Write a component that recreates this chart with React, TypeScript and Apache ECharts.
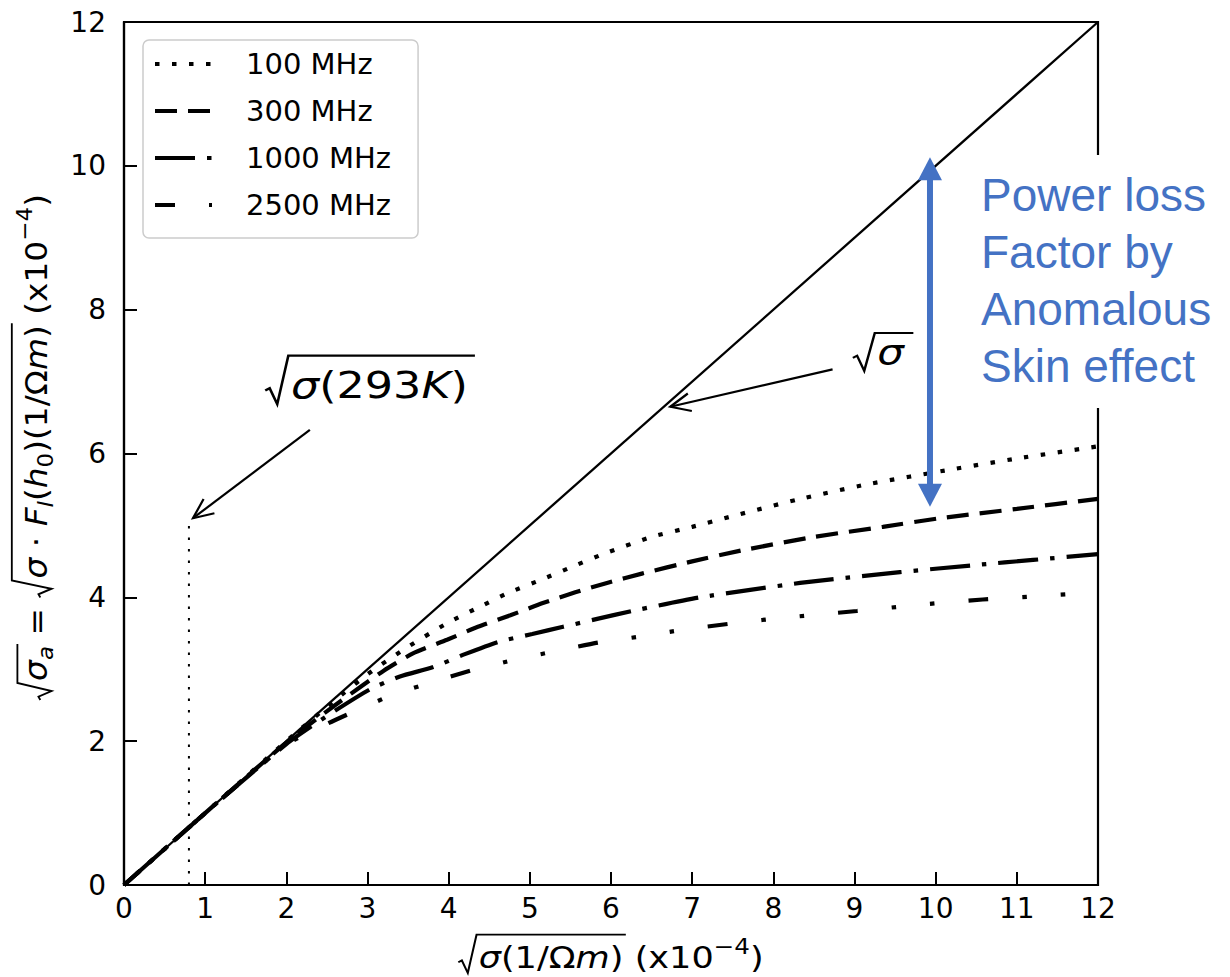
import React, { useEffect, useRef } from "react";
import * as echarts from "echarts";

// ---------- data ----------
const xRange = [0, 12];
const yRange = [0, 12];
const legendLabels = ["100 MHz", "300 MHz", "1000 MHz", "2500 MHz"];

const mhz100: [number, number][] = [
  [0, 0], [1, 1], [2, 2], [2.6, 2.57], [3.0, 2.93], [3.44, 3.27], [3.98, 3.64], [4.35, 3.85],
  [4.73, 4.06], [5.13, 4.24], [5.49, 4.41], [5.9, 4.6], [6.5, 4.84], [7.0, 4.98], [7.5, 5.13],
  [8.3, 5.36], [9.15, 5.57], [10.2, 5.78], [11.0, 5.93], [12.0, 6.1],
];
const mhz300: [number, number][] = [
  [0, 0], [1, 1], [2, 1.98], [2.6, 2.5], [3.2, 2.98], [3.56, 3.22], [3.98, 3.41], [4.36, 3.59],
  [4.76, 3.75], [5.16, 3.92], [5.56, 4.07], [5.95, 4.2], [6.38, 4.33], [7.0, 4.5], [7.6, 4.65],
  [8.5, 4.84], [9.35, 4.98], [10.05, 5.1], [11.0, 5.23], [12.0, 5.37],
];
const mhz1000: [number, number][] = [
  [0, 0], [1, 1], [2, 1.96], [2.5, 2.35], [3.03, 2.72], [3.4, 2.9], [3.81, 3.03], [4.2, 3.21],
  [4.61, 3.38], [5.03, 3.49], [5.41, 3.59], [5.83, 3.7], [6.26, 3.81], [7.1, 4.0], [8.33, 4.2],
  [9.56, 4.35], [10.5, 4.45], [11.2, 4.52], [12.0, 4.6],
];
const mhz2500: [number, number][] = [
  [0, 0], [1, 1], [2, 1.95], [2.5, 2.24], [2.85, 2.42], [3.32, 2.65], [3.77, 2.81], [4.3, 2.99],
  [4.84, 3.14], [5.31, 3.25], [5.84, 3.37], [6.39, 3.46], [6.89, 3.55], [7.44, 3.63], [7.98, 3.7],
  [8.45, 3.75], [9.03, 3.81], [9.56, 3.87], [10.03, 3.92], [10.58, 3.97], [11.16, 4.01], [11.7, 4.05],
];
const identityLine: [number, number][] = [[0, 0], [12, 12]];
const roomTempLine: [number, number][] = [[0.8, 0], [0.8, 5.0]];

// annotation anchors (data units)
const ann293Text: [number, number] = [1.74, 6.95];
const ann293ArrowFrom: [number, number] = [2.29, 6.33];
const ann293ArrowTo: [number, number] = [0.85, 5.1];
const annSigmaText: [number, number] = [8.98, 7.4];
const annSigmaArrowFrom: [number, number] = [8.73, 7.17];
const annSigmaArrowTo: [number, number] = [6.73, 6.65];
const blueArrowX = 9.93;
const blueArrowTop = 10.12;
const blueArrowBottom = 5.26;
const noteLines = ["Power loss", "Factor by", "Anomalous", "Skin effect"];

const FONT = "'DejaVu Sans', sans-serif";
const BLUE = "#4472C4";

type Piece = { t: string; it?: boolean; s?: number; dy?: number };
type Radical = { from: number; to: number; ov?: number; extra?: number };

function mathText(pieces: Piece[], radicals: Radical[], fs: number, color: string) {
  const canvas = document.createElement("canvas");
  const ctx = canvas.getContext("2d")!;
  const els: any[] = [];
  let x = 0;
  const ends: number[] = [];
  const radX = new Map<number, number>();
  const radStart = new Set(radicals.map((r) => r.from));
  pieces.forEach((p, i) => {
    if (radStart.has(i)) {
      radX.set(i, x);
      x += 0.58 * fs;
    }
    const size = fs * (p.s ?? 1);
    ctx.font = `${p.it ? "italic " : ""}${size}px "DejaVu Sans"`;
    const w = ctx.measureText(p.t).width;
    els.push({
      type: "text",
      x,
      y: (p.dy ?? 0) * fs,
      style: {
        text: p.t,
        fontSize: size,
        fontFamily: FONT,
        fontStyle: p.it ? "italic" : "normal",
        fill: color,
        align: "left",
        verticalAlign: "middle",
      },
    });
    x += w;
    ends[i] = x;
  });
  radicals.forEach((r) => {
    const x0 = radX.get(r.from)!;
    const xe = ends[r.to] + (r.extra ?? 2);
    const ov = -(r.ov ?? 0.78) * fs;
    els.push({
      type: "polyline",
      shape: {
        points: [
          [x0, 0.14 * fs],
          [x0 + 0.1 * fs, 0.08 * fs],
          [x0 + 0.27 * fs, 0.5 * fs],
          [x0 + 0.52 * fs, ov],
          [xe, ov],
        ],
      },
      style: { stroke: color, lineWidth: Math.max(1.6, fs / 17), fill: "none" },
    });
  });
  return { els, width: x };
}

function arrowEls(from: number[], to: number[], color: string) {
  const dx = to[0] - from[0];
  const dy = to[1] - from[1];
  const a = Math.atan2(dy, dx);
  const L = 22;
  const sp = 0.42;
  const h1 = [to[0] - L * Math.cos(a - sp), to[1] - L * Math.sin(a - sp)];
  const h2 = [to[0] - L * Math.cos(a + sp), to[1] - L * Math.sin(a + sp)];
  return [
    { type: "line", shape: { x1: from[0], y1: from[1], x2: to[0], y2: to[1] }, style: { stroke: color, lineWidth: 2.2 }, z: 10 },
    { type: "polyline", shape: { points: [h1, to, h2] }, style: { stroke: color, lineWidth: 2.2, fill: "none" }, z: 10 },
  ];
}

export default function App() {
  const ref = useRef<HTMLDivElement>(null);
  useEffect(() => {
    const chart = echarts.init(ref.current!, null, { renderer: "svg" });
    const lineBase = {
      type: "line",
      symbol: "none",
      showSymbol: false,
      smooth: 0.2,
      z: 3,
      itemStyle: { color: "#000" },
    };
    chart.setOption({
      animation: false,
      backgroundColor: "#ffffff",
      color: ["#000"],
      grid: { left: 124, top: 22, right: 132, bottom: 92, show: true, borderColor: "#000", borderWidth: 2.2 },
      xAxis: {
        type: "value",
        min: xRange[0],
        max: xRange[1],
        interval: 1,
        axisLine: { show: true, lineStyle: { color: "#000", width: 2.2 } },
        axisTick: { show: true, inside: true, length: 13, lineStyle: { color: "#000", width: 2 } },
        axisLabel: { color: "#000", fontSize: 28, fontFamily: FONT, margin: 9 },
        splitLine: { show: false },
      },
      yAxis: {
        type: "value",
        min: yRange[0],
        max: yRange[1],
        interval: 2,
        axisLine: { show: true, lineStyle: { color: "#000", width: 2.2 } },
        axisTick: { show: true, inside: true, length: 13, lineStyle: { color: "#000", width: 2 } },
        axisLabel: { color: "#000", fontSize: 28, fontFamily: FONT, margin: 18 },
        splitLine: { show: false },
      },
      legend: {
        data: legendLabels,
        orient: "vertical",
        left: 143,
        top: 40,
        itemWidth: 57,
        itemHeight: 14,
        itemGap: 17,
        padding: [9, 27, 18, 10],
        borderColor: "#cccccc",
        borderWidth: 1.5,
        borderRadius: 6,
        backgroundColor: "rgba(255,255,255,0.85)",
        itemStyle: { opacity: 0 },
        lineStyle: { width: 4, color: "#000" },
        textStyle: { fontSize: 29, fontFamily: FONT, color: "#000", padding: [0, 0, 0, 29], lineHeight: 30 },
      },
      series: [
        { ...lineBase, name: legendLabels[0], data: mhz100, lineStyle: { color: "#000", width: 4.2, type: [4.5, 12.5], cap: "butt" } },
        { ...lineBase, name: legendLabels[1], data: mhz300, lineStyle: { color: "#000", width: 4.2, type: [22, 11], cap: "butt" } },
        { ...lineBase, name: legendLabels[2], data: mhz1000, lineStyle: { color: "#000", width: 4.2, type: [40, 12, 4.5, 12], cap: "butt" } },
        { ...lineBase, name: legendLabels[3], data: mhz2500, lineStyle: { color: "#000", width: 4.2, type: [20, 34, 4.5, 34, 4.5, 34], cap: "butt" } },
        { type: "line", symbol: "none", data: identityLine, lineStyle: { color: "#000", width: 2.3 }, z: 4, silent: true },
        { type: "line", symbol: "none", data: roomTempLine, lineStyle: { color: "#000", width: 2, type: [2.5, 9] }, z: 4, silent: true },
      ],
    });

    const px = (p: number[]) => chart.convertToPixel({ gridIndex: 0 }, p) as number[];

    // x axis label
    const xl = mathText(
      [{ t: "σ", it: true }, { t: "(1/Ω" }, { t: "m", it: true }, { t: ")" }, { t: " (x10" }, { t: "−4", s: 0.7, dy: -0.38 }, { t: ")" }],
      [{ from: 0, to: 3 }],
      30,
      "#000"
    );
    // y axis label
    const yl = mathText(
      [
        { t: "σ", it: true }, { t: "a", it: true, s: 0.7, dy: 0.3 }, { t: " = " },
        { t: "σ", it: true }, { t: " · " }, { t: "F", it: true }, { t: "l", it: true, s: 0.7, dy: 0.3 },
        { t: "(" }, { t: "h", it: true }, { t: "0", s: 0.7, dy: 0.3 }, { t: ")(1/Ω" }, { t: "m", it: true }, { t: ")" },
        { t: " (x10" }, { t: "−4", s: 0.7, dy: -0.38 }, { t: ")" },
      ],
      [{ from: 0, to: 1, ov: 0.6 }, { from: 3, to: 12 }],
      31,
      "#000"
    );
    const t293 = mathText(
      [{ t: "σ", it: true }, { t: "(293" }, { t: "K", it: true }, { t: ")" }],
      [{ from: 0, to: 3, extra: 6 }],
      38,
      "#000"
    );
    const tSig = mathText([{ t: "σ", it: true }], [{ from: 0, to: 0, ov: 0.55, extra: 8 }], 36, "#000");

    const p293 = px(ann293Text);
    const pSig = px(annSigmaText);
    const bTop = px([blueArrowX, blueArrowTop]);
    const bBot = px([blueArrowX, blueArrowBottom]);
    const XL_SCALE = 1.17;
    const YL_SCALE = 1.06;

    const graphic: any[] = [
      {
        type: "group", x: 611, y: 958, z: 10,
        children: [{ type: "group", x: (-xl.width * XL_SCALE) / 2, scaleX: XL_SCALE, children: xl.els }],
      },
      {
        type: "group", x: 36, y: 447, rotation: Math.PI / 2, z: 10,
        children: [{ type: "group", x: (-yl.width * YL_SCALE) / 2, scaleX: YL_SCALE, children: yl.els }],
      },
      { type: "group", x: p293[0], y: p293[1], z: 10, scaleX: XL_SCALE, children: t293.els },
      { type: "group", x: pSig[0], y: pSig[1], z: 10, scaleX: XL_SCALE, children: tSig.els },
      ...arrowEls(px(ann293ArrowFrom), px(ann293ArrowTo), "#000"),
      ...arrowEls(px(annSigmaArrowFrom), px(annSigmaArrowTo), "#000"),
      // blue double arrow
      { type: "line", shape: { x1: bTop[0], y1: bTop[1] + 18, x2: bBot[0], y2: bBot[1] - 18 }, style: { stroke: BLUE, lineWidth: 6 }, z: 30 },
      { type: "polygon", shape: { points: [[bTop[0], bTop[1]], [bTop[0] - 12, bTop[1] + 23], [bTop[0] + 12, bTop[1] + 23]] }, style: { fill: BLUE }, z: 30 },
      { type: "polygon", shape: { points: [[bBot[0], bBot[1]], [bBot[0] - 12, bBot[1] - 23], [bBot[0] + 12, bBot[1] - 23]] }, style: { fill: BLUE }, z: 30 },
      // white note box
      { type: "rect", shape: { x: 968, y: 155, width: 262, height: 253 }, style: { fill: "#ffffff" }, z: 40 },
      ...noteLines.map((t, i) => ({
        type: "text",
        x: 981,
        y: 195 + i * 57,
        z: 41,
        style: { text: t, fontSize: 46, fontFamily: "'Liberation Sans', Arial, sans-serif", fill: BLUE, align: "left", verticalAlign: "middle" },
      })),
    ];
    chart.setOption({ graphic });

    return () => chart.dispose();
  }, []);
  return <div ref={ref} style={{ width: 1230, height: 977, position: "absolute", left: 0, top: 0 }} />;
}
